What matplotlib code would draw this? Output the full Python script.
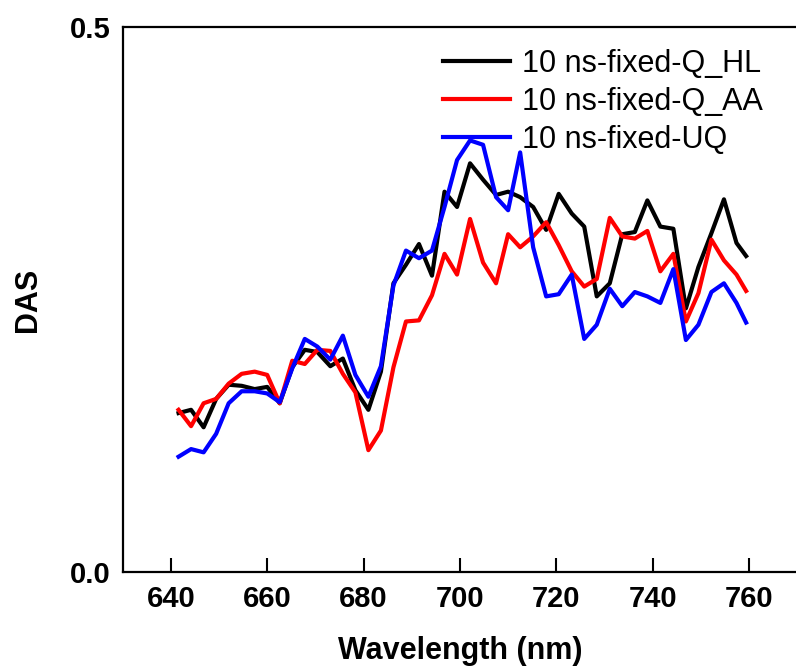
import matplotlib
matplotlib.use('Agg')
import matplotlib.pyplot as plt

# --- dados ---
comprimento_onda = [641.6, 644.2, 646.8, 649.4, 652.0, 654.7, 657.4, 660.0, 662.6, 665.2,
                    667.8, 670.4, 673.1, 675.7, 678.3, 681.0, 683.6, 686.2, 688.8, 691.5,
                    694.2, 696.8, 699.4, 702.1, 704.8, 707.5, 710.0, 712.5, 715.2, 717.9,
                    720.5, 723.2, 725.8, 728.4, 731.1, 733.7, 736.3, 738.9, 741.6, 744.3,
                    746.9, 749.5, 752.2, 754.8, 757.4, 759.4]

das_q_hl = [0.146, 0.149, 0.133, 0.159, 0.172, 0.171, 0.168, 0.170, 0.155, 0.188,
            0.204, 0.202, 0.189, 0.196, 0.167, 0.149, 0.184, 0.265, 0.282, 0.301,
            0.272, 0.349, 0.335, 0.375, 0.360, 0.346, 0.349, 0.344, 0.335, 0.314,
            0.347, 0.329, 0.317, 0.253, 0.265, 0.310, 0.312, 0.341, 0.317, 0.315,
            0.242, 0.280, 0.311, 0.342, 0.302, 0.290]

das_q_aa = [0.149, 0.134, 0.155, 0.159, 0.173, 0.182, 0.184, 0.181, 0.155, 0.194,
            0.191, 0.204, 0.203, 0.182, 0.165, 0.112, 0.130, 0.188, 0.230, 0.231,
            0.254, 0.292, 0.273, 0.324, 0.284, 0.265, 0.310, 0.298, 0.308, 0.321,
            0.300, 0.276, 0.262, 0.269, 0.325, 0.308, 0.306, 0.313, 0.276, 0.292,
            0.230, 0.256, 0.305, 0.286, 0.273, 0.258]

das_uq = [0.106, 0.113, 0.110, 0.127, 0.155, 0.166, 0.166, 0.164, 0.156, 0.187,
          0.214, 0.207, 0.195, 0.217, 0.181, 0.161, 0.189, 0.263, 0.295, 0.288,
          0.295, 0.335, 0.378, 0.396, 0.392, 0.344, 0.332, 0.385, 0.298, 0.253,
          0.255, 0.273, 0.214, 0.227, 0.260, 0.244, 0.257, 0.253, 0.247, 0.278,
          0.213, 0.227, 0.257, 0.265, 0.247, 0.229]

rotulos = ['10 ns-fixed-Q_HL', '10 ns-fixed-Q_AA', '10 ns-fixed-UQ']
cores = ['black', 'red', 'blue']

xticks = [640, 660, 680, 700, 720, 740, 760]
yticks = [0.0, 0.5]
ytick_labels = ['0.0', '0.5']

plt.rcParams['font.family'] = ['Liberation Sans', 'DejaVu Sans']

fig = plt.figure(figsize=(7.96, 6.70), dpi=100)
ax = fig.add_axes([0.1541, 0.1458, 0.8474, 0.8139])

series = [das_q_hl, das_q_aa, das_uq]
for valores, cor, rot in zip(series, cores, rotulos):
    ax.plot(comprimento_onda, valores, color=cor, lw=3.0, label=rot)

ax.set_xlim(630, 770)
ax.set_ylim(0, 0.5)
ax.set_xticks(xticks)
ax.set_yticks(yticks)
ax.set_yticklabels(ytick_labels)

for lab in ax.get_xticklabels() + ax.get_yticklabels():
    lab.set_fontweight('bold')
    lab.set_fontsize(21)

ax.tick_params(axis='x', direction='in', length=10, width=1.5, pad=9)
ax.tick_params(axis='y', direction='in', length=0, pad=9)

for lado in ['left', 'bottom', 'top']:
    ax.spines[lado].set_linewidth(1.6)
ax.spines['right'].set_visible(False)

ax.set_xlabel('Wavelength (nm)', fontsize=22, fontweight='bold', labelpad=17)
ax.set_ylabel('DAS', fontsize=22, fontweight='bold', labelpad=19)

ax.legend(loc='upper left', bbox_to_anchor=(443 / 796, 1 - 49 / 670),
          bbox_transform=fig.transFigure, frameon=False, fontsize=22,
          handlelength=2.2, handletextpad=0.4, labelspacing=0.26,
          borderpad=0, borderaxespad=0)

fig.savefig('out.png', dpi=100)
